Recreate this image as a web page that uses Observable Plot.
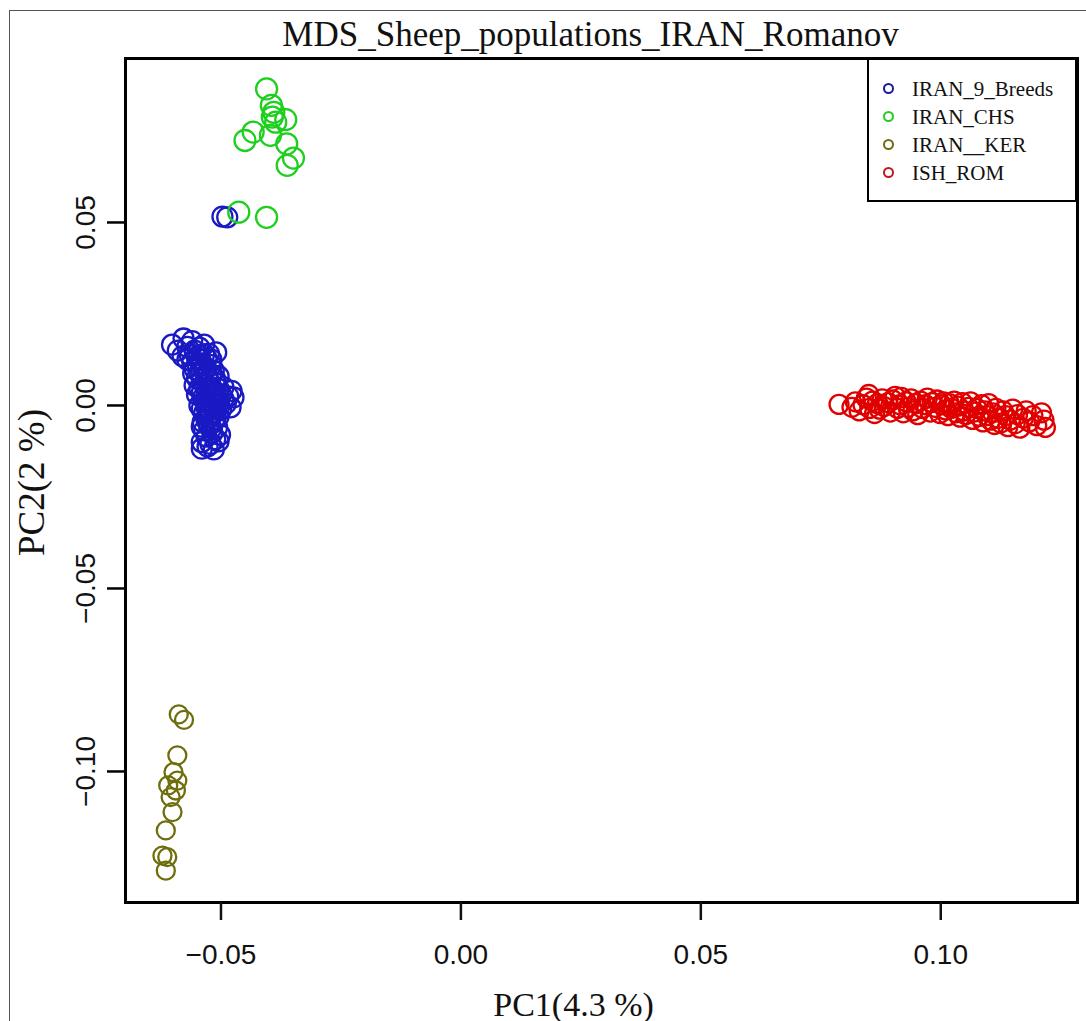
<!DOCTYPE html>
<html>
<head>
<meta charset="utf-8">
<script src="https://cdn.jsdelivr.net/npm/d3@7"></script>
<script src="https://cdn.jsdelivr.net/npm/@observablehq/plot@0.6"></script>
<style>
  html, body { margin: 0; padding: 0; background: #fff; }
  #wrap { position: relative; width: 1086px; height: 1021px; overflow: hidden; }
  #outer { position: absolute; left: 9px; top: 10px; right: -5px; bottom: -5px; border-left: 1.5px solid #555; border-top: 1.5px solid #555; pointer-events: none; }
  #legend { position: absolute; left: 867px; top: 58px; width: 206px; height: 140px; border: 2.5px solid #000; background: #fff; font-family: "Liberation Serif", serif; font-size: 21px; color: #111; }
  .item { position: absolute; left: 0; height: 28px; line-height: 28px; white-space: nowrap; }
  .dot { position: absolute; left: 14px; top: 8px; width: 7px; height: 7px; border-radius: 50%; border: 2.8px solid; }
  .lab { position: absolute; left: 43px; top: 0; }
</style>
</head>
<body>
<div id="wrap">
  <div id="chart"></div>
  <div id="outer"></div>
  <div id="legend"></div>
</div>
<script>
// ---- data (PC1, PC2) ----
const groups = ["IRAN_9_Breeds", "IRAN_CHS", "IRAN__KER", "ISH_ROM"];
const colors = ["#1a1ac4", "#1ecf1e", "#6e6e0c", "#e00000"];
const legendColors = ["#1a1a9a", "#22cc22", "#6e6e10", "#c0181e"];

const iran9 = [
  [-0.0497,0.0516],[-0.0487,0.0514],
  [-0.0602,0.0166],[-0.0578,0.0183],[-0.0560,0.0176],[-0.0535,0.0166],[-0.0525,0.0141],[-0.0510,0.0145],
  [-0.0590,0.0150],[-0.0570,0.0160],[-0.0555,0.0150],[-0.0545,0.0158],[-0.0580,0.0135],[-0.0565,0.0138],
  [-0.0550,0.0130],[-0.0530,0.0128],[-0.0560,0.0120],[-0.0540,0.0115],[-0.0520,0.0110],
  [-0.0555,0.0100],[-0.0545,0.0090],[-0.0535,0.0095],[-0.0520,0.0085],[-0.0505,0.0080],[-0.0550,0.0075],
  [-0.0540,0.0070],[-0.0525,0.0065],[-0.0510,0.0060],[-0.0495,0.0050],[-0.0555,0.0055],[-0.0545,0.0045],
  [-0.0530,0.0040],[-0.0515,0.0035],[-0.0500,0.0030],[-0.0485,0.0025],[-0.0550,0.0030],[-0.0538,0.0020],
  [-0.0522,0.0015],[-0.0508,0.0010],[-0.0490,0.0005],[-0.0545,0.0000],[-0.0530,-0.0005],[-0.0515,-0.0008],
  [-0.0500,-0.0012],[-0.0535,-0.0020],[-0.0520,-0.0025],[-0.0505,-0.0030],
  [-0.0474,0.0022],[-0.0480,-0.0005],[-0.0478,0.0040],
  [-0.0548,0.0108],[-0.0532,0.0102],[-0.0515,0.0095],[-0.0558,0.0088],[-0.0528,0.0080],[-0.0512,0.0072],
  [-0.0535,0.0058],[-0.0520,0.0050],[-0.0505,0.0045],[-0.0540,0.0035],[-0.0525,0.0028],[-0.0510,0.0022],
  [-0.0495,0.0018],[-0.0532,0.0010],[-0.0518,0.0005],[-0.0503,0.0000],[-0.0540,-0.0010],[-0.0525,-0.0015],
  [-0.0512,-0.0018],[-0.0528,-0.0032],[-0.0512,-0.0036],[-0.0538,-0.0045],[-0.0520,-0.0062],[-0.0540,-0.0058],
  [-0.0570,0.0125],[-0.0545,0.0138],[-0.0520,0.0125],[-0.0535,0.0140],
  [-0.0530,-0.0040],[-0.0515,-0.0045],[-0.0525,-0.0055],[-0.0508,-0.0060],[-0.0535,-0.0068],[-0.0518,-0.0075],
  [-0.0502,-0.0080],[-0.0530,-0.0085],[-0.0512,-0.0092],[-0.0540,-0.0100],[-0.0522,-0.0105],[-0.0505,-0.0098],
  [-0.0540,-0.0118],[-0.0515,-0.0120],[-0.0528,-0.0112]
];

const iranCHS = [
  [-0.0405,0.0865],[-0.0395,0.0820],[-0.0390,0.0801],[-0.0365,0.0781],[-0.0386,0.0774],[-0.0397,0.0738],
  [-0.0433,0.0747],[-0.0450,0.0724],[-0.0363,0.0715],[-0.0349,0.0676],[-0.0362,0.0656],[-0.0463,0.0528],
  [-0.0405,0.0514],[-0.0393,0.0788]
];

const iranKER = [
  [-0.0588,-0.0844],[-0.0577,-0.0859],[-0.0591,-0.0956],[-0.0599,-0.1002],[-0.0591,-0.1025],[-0.0610,-0.1038],
  [-0.0594,-0.1052],[-0.0605,-0.1070],[-0.0601,-0.1111],[-0.0615,-0.1161],[-0.0622,-0.1230],[-0.0612,-0.1234],
  [-0.0615,-0.1271]
];

const ishROM = [
  [0.0788,0.0003],
  [0.0815,-0.0005],[0.0822,0.0010],[0.0830,-0.0015],[0.0838,0.0002],[0.0845,0.0020],[0.0850,0.0030],[0.0852,-0.0008],
  [0.0858,0.0012],[0.0862,-0.0022],[0.0868,0.0005],[0.0872,-0.0010],[0.0878,0.0018],[0.0882,-0.0003],
  [0.0890,0.0008],[0.0895,-0.0018],[0.0900,0.0015],[0.0905,0.0025],[0.0910,-0.0008],[0.0915,0.0002],[0.0918,0.0022],
  [0.0922,-0.0020],[0.0928,0.0010],[0.0932,-0.0005],[0.0938,0.0018],[0.0942,-0.0015],[0.0948,0.0005],
  [0.0952,-0.0025],[0.0958,0.0012],[0.0962,-0.0008],[0.0968,0.0002],[0.0972,0.0020],[0.0978,-0.0018],[0.0982,0.0008],
  [0.0988,-0.0005],[0.0992,0.0015],[0.0998,-0.0022],[0.1002,0.0002],[0.1006,0.0010],[0.1010,-0.0012],[0.1015,-0.0028],
  [0.1018,0.0005],
  [0.1022,-0.0008],[0.1028,0.0012],[0.1032,-0.0020],[0.1036,-0.0002],[0.1040,-0.0032],[0.1045,0.0008],[0.1048,-0.0015],
  [0.1052,-0.0025],[0.1058,-0.0005],[0.1062,0.0010],[0.1066,-0.0038],[0.1070,-0.0018],[0.1075,-0.0008],[0.1080,-0.0030],
  [0.1085,0.0002],[0.1088,-0.0045],
  [0.1092,-0.0015],[0.1096,-0.0028],[0.1100,0.0005],[0.1104,-0.0040],[0.1108,-0.0020],[0.1112,-0.0052],[0.1115,-0.0008],
  [0.1120,-0.0035],[0.1125,-0.0048],[0.1130,-0.0015],[0.1135,-0.0028],[0.1140,-0.0058],[0.1145,-0.0040],[0.1150,-0.0010],
  [0.1155,-0.0050],[0.1160,-0.0025],[0.1165,-0.0062],
  [0.1172,-0.0035],[0.1178,-0.0015],[0.1185,-0.0045],[0.1192,-0.0028],[0.1200,-0.0055],[0.1210,-0.0020],[0.1215,-0.0040],
  [0.1218,-0.0060]
];

const xTicks = [-0.05, 0.00, 0.05, 0.10];
const yTicks = [-0.10, -0.05, 0.00, 0.05];
const title = "MDS_Sheep_populations_IRAN_Romanov";
const xLabel = "PC1(4.3 %)";
const yLabel = "PC2(2 %)";

// ---- build ----
const seriesList = [iran9, iranCHS, iranKER, ishROM];
const radii = [10, 10.5, 9, 9.5];
const fmt = d3.format(".2f");
const toRows = (s, i) => s.map(([x, y]) => ({x, y, group: groups[i]}));

const dotMarks = seriesList.map((s, i) =>
  Plot.dot(toRows(s, i), {x: "x", y: "y", stroke: "group", r: radii[i], strokeWidth: 2.3})
);

const chart = Plot.plot({
  width: 1086,
  height: 1021,
  marginLeft: 125,
  marginTop: 58,
  marginRight: 9,
  marginBottom: 119,
  style: {background: "transparent"},
  x: {domain: [-0.0699, 0.1285]},
  y: {domain: [-0.1358, 0.0948]},
  color: {domain: groups, range: colors},
  marks: [
    ...dotMarks,
    Plot.frame({stroke: "#000", strokeWidth: 3}),
    Plot.axisX({ticks: xTicks, tickSize: 18, tickPadding: 24, tickFormat: fmt, fontSize: 28,
      fontFamily: "Liberation Sans, Arial, sans-serif", strokeWidth: 2.5, label: null, color: "#111"}),
    Plot.axisY({ticks: yTicks, tickSize: 18, tickFormat: () => "", strokeWidth: 2.5, label: null}),
    Plot.text(yTicks, {y: d => d, text: d => fmt(d), frameAnchor: "left", dx: -31, rotate: -90,
      textAnchor: "middle", lineAnchor: "bottom", fontSize: 28, fontFamily: "Liberation Sans, Arial, sans-serif", fill: "#111"}),
    Plot.text([title], {frameAnchor: "top", dx: -11, dy: -13, lineAnchor: "bottom", fontSize: 35,
      fontFamily: "Liberation Serif, serif", fill: "#111"}),
    Plot.text([xLabel], {frameAnchor: "bottom", dx: -28, dy: 113, lineAnchor: "bottom", fontSize: 34,
      fontFamily: "Liberation Serif, serif", fill: "#111"}),
    Plot.text([yLabel], {frameAnchor: "left", dx: -82, dy: 2, rotate: -90, textAnchor: "middle", lineAnchor: "bottom", fontSize: 37,
      fontFamily: "Liberation Serif, serif", fill: "#111"})
  ]
});
document.getElementById("chart").appendChild(chart);

// ---- legend ----
const legend = document.getElementById("legend");
groups.forEach((g, i) => {
  const item = document.createElement("div");
  item.className = "item";
  item.style.top = (15 + i * 28) + "px";
  const dot = document.createElement("span");
  dot.className = "dot";
  dot.style.borderColor = legendColors[i];
  const lab = document.createElement("span");
  lab.className = "lab";
  lab.textContent = g;
  item.appendChild(dot);
  item.appendChild(lab);
  legend.appendChild(item);
});
</script>
</body>
</html>
